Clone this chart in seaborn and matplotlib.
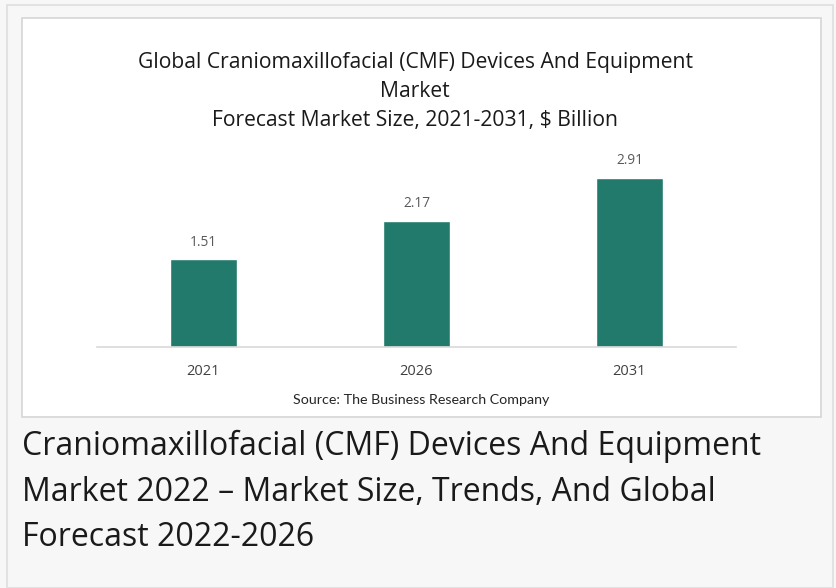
import matplotlib
matplotlib.use("Agg")
import matplotlib.pyplot as plt
import seaborn as sns
import pandas as pd
from matplotlib.patches import Rectangle

years = ["2021", "2026", "2031"]
market_size = [1.51, 2.17, 2.91]

title_text = ("Global Craniomaxillofacial (CMF) Devices And Equipment\nMarket\n"
              "Forecast Market Size, 2021-2031, $ Billion")
source_text = "Source: The Business Research Company"
caption_text = ("Craniomaxillofacial (CMF) Devices And Equipment\n"
                "Market 2022 – Market Size, Trends, And Global\n"
                "Forecast 2022-2026")

sns.set_theme(style="white")
plt.rcParams['font.family'] = ['Open Sans', 'DejaVu Sans']

W, H = 836, 588
fig = plt.figure(figsize=(W / 100, H / 100), dpi=100)
fig.patch.set_facecolor("#f7f7f7")

# outer frame and white chart card
fig.patches.append(Rectangle((7 / W, 0), 826 / W, 1 - 5 / H, transform=fig.transFigure,
                             facecolor="none", edgecolor="#e2e2e2", lw=1.5, zorder=0))
fig.patches.append(Rectangle((22 / W, 1 - 417 / H), 799 / W, 399 / H, transform=fig.transFigure,
                             facecolor="white", edgecolor="#d6d6d6", lw=1.2, zorder=0))

ax = fig.add_axes([97 / W, 1 - 347 / H, 639 / W, 180 / H])
ax.set_zorder(2)
ax.set_facecolor("none")
df = pd.DataFrame({"year": years, "size": market_size})
sns.barplot(data=df, x="year", y="size", color="#217a6b", width=0.31,
            saturation=1, ax=ax)
ax.set_xlim(-0.5, 2.5)
ax.set_ylim(0, 3.1)
ax.set_xlabel("")
ax.set_ylabel("")
ax.set_yticks([])
for s in ["top", "left", "right"]:
    ax.spines[s].set_visible(False)
ax.spines["bottom"].set_color("#d9d9d9")
ax.spines["bottom"].set_linewidth(1.2)
ax.tick_params(axis="x", length=0, pad=12, labelsize=10.5, labelcolor="#404040")
for c in ax.containers:
    ax.bar_label(c, labels=[f"{v:.2f}" for v in market_size], padding=7,
                 fontsize=9.8, color="#595959")

fig.text(415 / W, 1 - 91.5 / H, title_text, ha="center", va="center",
         fontsize=15.2, color="#1a1a1a", linespacing=1.5, zorder=3)
fig.text(421 / W, 1 - 400 / H, source_text, ha="center", va="center",
         fontsize=10.3, color="#262626", family=["Lato", "DejaVu Sans"], zorder=3)
fig.text(22 / W, 1 - 492 / H, caption_text, ha="left", va="center",
         fontsize=23, color="#1a1a1a", linespacing=1.5, zorder=3)

fig.savefig("out.png", dpi=100, facecolor=fig.get_facecolor())
